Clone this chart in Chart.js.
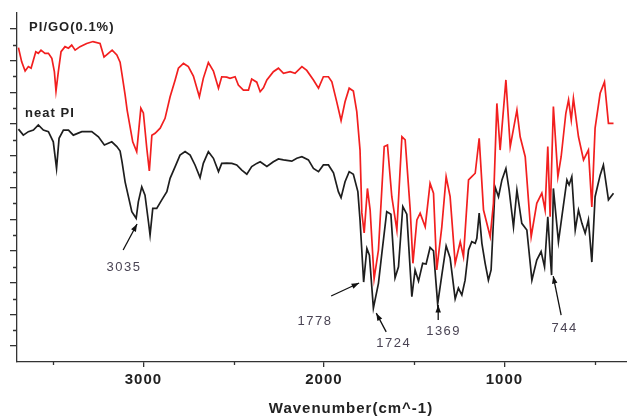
<!DOCTYPE html>
<html>
<head>
<meta charset="utf-8">
<title>FTIR spectra: neat PI and PI/GO(0.1%)</title>
<script src="https://cdn.jsdelivr.net/npm/chart.js@4.4.1/dist/chart.umd.min.js"></script>
<style>
  html, body { margin: 0; padding: 0; background: #fff; overflow: hidden; }
  #wrap { position: relative; width: 700px; height: 416px; }
</style>
</head>
<body>
<div id="wrap"><canvas id="ftirChart"></canvas></div>
<script>
(function () {
    'use strict';

    // PI/GO(0.1%) spectrum (red)
    var goWavenumber = [3692, 3674, 3655, 3637, 3622, 3609, 3596, 3582, 3567, 3545, 3526, 3507, 3493, 3484, 3471,
        3456, 3434, 3415, 3397, 3378, 3351, 3314, 3279, 3240, 3218, 3194, 3173, 3147, 3129, 3118, 3101, 3090,
        3059, 3037, 3014, 3000, 2981, 2967, 2953, 2935, 2907, 2880, 2852, 2824, 2806, 2778, 2751, 2723, 2690,
        2668, 2640, 2612, 2584, 2566, 2538, 2520, 2492, 2474, 2446, 2418, 2400, 2372, 2353, 2335, 2316, 2280,
        2252, 2224, 2187, 2160, 2122, 2095, 2058, 2030, 2003, 1975, 1956, 1929, 1905, 1883, 1860, 1837, 1818,
        1800, 1790, 1777, 1759, 1744, 1722, 1698, 1666, 1648, 1624, 1596, 1568, 1550, 1522, 1507, 1485, 1467,
        1439, 1412, 1393, 1375, 1347, 1323, 1301, 1273, 1245, 1227, 1199, 1181, 1162, 1140, 1116, 1079, 1061,
        1042, 1024, 992, 968, 931, 913, 885, 852, 821, 793, 775, 760, 747, 729, 704, 686, 660, 645, 630, 618,
        590, 562, 535, 516, 498, 470, 446, 424, 396];
    var goSignal = [99.1, 94.6, 91.7, 93.1, 92.6, 95.2, 97.8, 97.3, 98.3, 97.3, 97.3, 95.7, 91.5, 85.4, 91.5,
        97.8, 99.4, 98.9, 99.9, 98.3, 99.4, 100.4, 101.0, 100.4, 96.1, 97.3, 98.3, 96.8, 94.5, 90.5, 84.1, 79.4,
        69.4, 66.3, 80.0, 78.5, 67.3, 60.2, 71.5, 72.1, 73.7, 76.8, 83.6, 88.9, 92.6, 94.1, 93.1, 90.1, 83.6,
        89.4, 94.4, 91.7, 86.3, 89.9, 89.8, 89.4, 89.9, 87.3, 85.7, 85.7, 89.2, 88.2, 85.2, 86.4, 88.9, 91.5,
        92.6, 91.0, 91.5, 91.0, 93.1, 91.9, 88.9, 86.3, 89.9, 89.9, 88.3, 82.0, 76.1, 82.0, 86.3, 85.4, 78.9,
        66.8, 47.0, 40.7, 54.7, 47.9, 26.2, 35.3, 67.9, 68.4, 52.1, 41.6, 71.0, 70.0, 47.9, 31.1, 44.8, 46.9,
        42.6, 56.3, 53.2, 29.0, 42.6, 58.4, 52.1, 31.1, 37.9, 33.2, 57.4, 58.4, 59.5, 70.5, 47.9, 39.5, 50.0,
        81.5, 66.8, 88.9, 67.9, 79.4, 71.0, 64.7, 39.5, 50.0, 53.2, 47.9, 67.9, 45.8, 80.5, 58.4, 64.7, 78.4,
        82.6, 76.3, 83.1, 71.0, 63.7, 66.8, 48.9, 73.7, 84.7, 88.3, 75.2, 75.2];

    // neat PI spectrum (black)
    var piWavenumber = [3692, 3665, 3637, 3609, 3582, 3554, 3526, 3499, 3481, 3467, 3443, 3415, 3388, 3341, 3286,
        3249, 3216, 3175, 3147, 3129, 3118, 3101, 3064, 3040, 3028, 3009, 2991, 2972, 2963, 2948, 2926, 2898,
        2870, 2852, 2824, 2797, 2769, 2741, 2714, 2686, 2668, 2640, 2612, 2584, 2566, 2538, 2510, 2483, 2455,
        2427, 2400, 2372, 2353, 2316, 2280, 2252, 2224, 2178, 2150, 2122, 2086, 2058, 2030, 2003, 1975, 1947,
        1920, 1905, 1883, 1860, 1837, 1812, 1800, 1780, 1762, 1748, 1726, 1698, 1679, 1652, 1629, 1606, 1587,
        1563, 1541, 1513, 1495, 1476, 1453, 1434, 1412, 1393, 1370, 1347, 1323, 1301, 1273, 1255, 1236, 1218,
        1199, 1181, 1162, 1153, 1140, 1125, 1107, 1089, 1074, 1052, 1033, 1014, 992, 974, 950, 931, 904, 876,
        848, 821, 797, 778, 760, 747, 739, 729, 701, 682, 654, 642, 627, 608, 590, 571, 553, 535, 516, 498,
        470, 452, 424, 396];
    var piSignal = [73.4, 71.5, 72.6, 73.1, 74.7, 73.1, 72.6, 69.4, 61.0, 70.5, 73.1, 73.1, 71.5, 72.6, 72.6,
        71.0, 68.4, 69.4, 67.9, 66.5, 63.0, 56.7, 47.4, 45.3, 50.5, 55.2, 52.6, 44.2, 40.0, 48.4, 48.4, 51.1,
        53.7, 57.9, 61.6, 65.2, 66.3, 65.2, 62.1, 58.1, 62.6, 66.3, 64.2, 60.0, 62.6, 62.7, 62.6, 62.1, 60.5,
        59.2, 61.6, 62.6, 63.1, 61.6, 63.1, 64.0, 63.7, 63.3, 64.2, 64.7, 63.7, 61.0, 60.0, 62.1, 62.1, 59.6,
        53.7, 51.8, 56.8, 60.0, 59.2, 53.7, 44.8, 25.2, 35.8, 33.7, 17.0, 24.8, 34.3, 47.4, 46.6, 26.5, 30.0,
        49.0, 46.6, 20.6, 29.0, 25.5, 31.1, 30.9, 36.1, 35.0, 18.3, 27.4, 36.6, 32.8, 19.9, 23.3, 21.1, 25.8,
        35.3, 37.9, 37.4, 39.0, 46.9, 37.4, 31.1, 25.8, 29.0, 55.2, 52.1, 57.4, 61.0, 54.2, 42.6, 54.2, 43.7, 41.6,
        25.8, 32.1, 34.8, 30.0, 45.8, 33.7, 27.4, 54.7, 37.9, 45.8, 57.4, 55.8, 58.4, 41.6, 47.9, 43.7, 40.6,
        44.8, 31.5, 52.1, 58.9, 62.1, 51.1, 53.2];

    // axis ticks (no y labels in the original)
    var xMajorTicks = [3000, 2000, 1000, 0];
    var xMinorTicks = [3500, 2500, 1500, 500];
    var yMajorTicks = [5, 15, 25, 35, 45, 55, 65, 75, 85, 95, 105];
    var yMinorTicks = [10, 20, 30, 40, 50, 60, 70, 80, 90, 100];

    // peak call-outs: label position and arrow tail -> head, in data units
    var peakNotes = [
        { text: '3035', at: [3107, 29.9], from: [3112, 35.3], to: [3035, 43.5] },
        { text: '1778', at: [2049, 12.9], from: [1960, 20.8], to: [1805, 24.9] },
        { text: '1724', at: [1613, 5.7],  from: [1655, 9.5],  to: [1710, 15.4] },
        { text: '1369', at: [1337, 9.5],  from: [1367, 13.2], to: [1367, 18.0] },
        { text: '744',  at: [667, 10.7],  from: [686, 14.8],  to: [730, 27.1] }
    ];
    var seriesNotes = [
        { text: 'PI/GO(0.1%)', at: [3633, 105.6] },
        { text: 'neat PI',     at: [3655, 78.5] }
    ];

    var fontFamily = 'Arial, "Liberation Sans", sans-serif';
    var axisColour = '#333333';

    function toPoints(xs, ys) {
        return xs.map(function (x, i) { return { x: x, y: ys[i] }; });
    }

    var spacingPlugin = {
        id: 'spacing',
        beforeDraw: function (chart) { chart.ctx.letterSpacing = '1px'; }
    };

    var minorTickPlugin = {
        id: 'minorTicks',
        afterDraw: function (chart) {
            var ctx = chart.ctx, xs = chart.scales.x, ys = chart.scales.y;
            ctx.save();
            ctx.strokeStyle = axisColour;
            ctx.lineWidth = 1.3;
            ctx.beginPath();
            xMinorTicks.forEach(function (v) {
                var px = Math.round(xs.getPixelForValue(v)) + 0.5;
                ctx.moveTo(px, ys.bottom);
                ctx.lineTo(px, ys.bottom + 3);
            });
            yMinorTicks.forEach(function (v) {
                var py = Math.round(ys.getPixelForValue(v)) + 0.5;
                ctx.moveTo(xs.left, py);
                ctx.lineTo(xs.left - 4, py);
            });
            ctx.stroke();
            ctx.restore();
        }
    };

    var notesPlugin = {
        id: 'peakNotes',
        afterDatasetsDraw: function (chart) {
            var ctx = chart.ctx, xs = chart.scales.x, ys = chart.scales.y;
            function px(p) { return [xs.getPixelForValue(p[0]), ys.getPixelForValue(p[1])]; }
            ctx.save();
            ctx.letterSpacing = '1.5px';
            ctx.font = '13px ' + fontFamily;
            ctx.textAlign = 'center';
            ctx.textBaseline = 'middle';
            peakNotes.forEach(function (n) {
                var t = px(n.at), a = px(n.from), b = px(n.to);
                ctx.fillStyle = '#4a4454';
                ctx.fillText(n.text, t[0], t[1]);
                // arrow shaft
                ctx.strokeStyle = '#111';
                ctx.lineWidth = 1.3;
                ctx.beginPath();
                ctx.moveTo(a[0], a[1]);
                ctx.lineTo(b[0], b[1]);
                ctx.stroke();
                // arrow head
                var ang = Math.atan2(b[1] - a[1], b[0] - a[0]);
                ctx.fillStyle = '#111';
                ctx.beginPath();
                ctx.moveTo(b[0], b[1]);
                ctx.lineTo(b[0] - 8 * Math.cos(ang - 0.35), b[1] - 8 * Math.sin(ang - 0.35));
                ctx.lineTo(b[0] - 8 * Math.cos(ang + 0.35), b[1] - 8 * Math.sin(ang + 0.35));
                ctx.closePath();
                ctx.fill();
            });
            ctx.letterSpacing = '1px';
            ctx.font = 'bold 13px ' + fontFamily;
            ctx.fillStyle = '#222';
            ctx.textAlign = 'left';
            seriesNotes.forEach(function (n) {
                var t = px(n.at);
                ctx.fillText(n.text, t[0], t[1]);
            });
            ctx.restore();
        }
    };

    new Chart(document.getElementById('ftirChart'), {
        type: 'line',
        data: {
            datasets: [{
                label: 'PI/GO(0.1%)',
                data: toPoints(goWavenumber, goSignal),
                borderColor: '#f21f1f',
                borderWidth: 1.7,
                pointRadius: 0,
                tension: 0
            }, {
                label: 'neat PI',
                data: toPoints(piWavenumber, piSignal),
                borderColor: '#1e1e1e',
                borderWidth: 1.7,
                pointRadius: 0,
                tension: 0
            }]
        },
        options: {
            responsive: true,
            maintainAspectRatio: false,
            animation: false,
            layout: { padding: { top: 13, right: 15, left: 0, bottom: 0 } },
            plugins: {
                legend: { display: false },
                tooltip: { enabled: false }
            },
            scales: {
                x: {
                    type: 'linear',
                    reverse: true,
                    min: 0,
                    max: 3700,
                    afterBuildTicks: function (axis) {
                        axis.ticks = xMajorTicks.map(function (v) { return { value: v }; });
                    },
                    afterFit: function (axis) { axis.height = 54; },
                    border: { display: true, color: axisColour, width: 1.3 },
                    grid: { drawOnChartArea: false, tickLength: 5, color: axisColour, lineWidth: 1.3 },
                    ticks: {
                        padding: 4,
                        color: '#222',
                        maxRotation: 0,
                        font: { family: fontFamily, size: 15, weight: 'bold' },
                        callback: function (v) { return String(v); }
                    },
                    title: {
                        display: true,
                        text: 'Wavenumber(cm^-1)',
                        color: '#222',
                        padding: 0,
                        font: { family: fontFamily, size: 15, weight: 'bold', lineHeight: 1 }
                    }
                },
                y: {
                    type: 'linear',
                    min: 0,
                    max: 110,
                    afterBuildTicks: function (axis) {
                        axis.ticks = yMajorTicks.map(function (v) { return { value: v }; });
                    },
                    afterFit: function (axis) { axis.width = 17; },
                    border: { display: true, color: axisColour, width: 1.3 },
                    grid: { drawOnChartArea: false, tickLength: 7, color: axisColour, lineWidth: 1.3 },
                    ticks: { display: false }
                }
            }
        },
        plugins: [spacingPlugin, minorTickPlugin, notesPlugin]
    });
})();
</script>
</body>
</html>
